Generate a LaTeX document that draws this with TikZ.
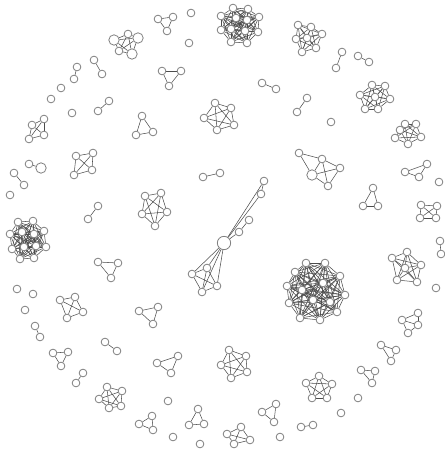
\documentclass[tikz,border=0pt]{standalone}
\pgfdeclarelayer{bg}\pgfsetlayers{bg,main}
\tikzset{
  vx/.style={circle,draw=black!50,fill=white,line width=0.6pt,inner sep=0pt,minimum size=5.8pt},
  vxl/.style={vx,minimum size=7.8pt},
  hubnode/.style={vx,minimum size=10pt},
  edge/.style={draw=black!70,line width=0.4pt}
}
\newcommand\clq[2]{\foreach \i in {1,...,#2}{\foreach \j in {1,...,#2}{\ifnum\i<\j \draw[edge] (#1\i)--(#1\j);\fi}}}
\begin{document}
\begin{tikzpicture}[x=0.75pt,y=-0.75pt]
\useasboundingbox (0,0) rectangle (444,449);
% clusters
\foreach \n/\x/\y in {
 K2/128/34,K4/119/51,
 T1/233/8,T2/248/9,T3/221/16,T4/259/17,T5/221/30,T6/258/32,T7/231/42,T8/247/43,T9/236/18,T10/247/20,T11/231/29,T12/245/31,
 R1/298/25,R2/311/27,R3/322/34,R4/296/39,R5/307/38,R6/302/52,R7/316/48,
 S1/372/85,S2/385/86,S3/360/95,S4/390/99,S5/365/109,S6/378/109,S7/375/97,
 U1/405/124,U2/416/124,U3/400/130,U4/421/137,U5/395/138,U6/408/144,
 P1/215/103,P2/231/108,P3/204/118,P4/234/125,P5/217/130,
 Q1/145/196,Q2/161/193,Q3/142/214,Q4/167/212,Q5/155/226,
 M1/299/153,M2/322/159,M3/340/168,M5/328/186,
 F1/76/156,F2/93/153,F3/74/175,F4/92/170,
 N1/421/205,N2/437/206,N3/420/218,N4/436/218,
 E1/44/119,E2/32/125,E3/29/139,E4/44/135,
 L1/18/222,L2/33/221,L3/44/231,L4/10/234,L5/46/247,L6/12/249,L7/34/258,L8/20/259,L9/22/232,L10/34/234,L11/24/247,L12/36/246,
 B1/306/263,B2/325/263,B3/340/276,B4/345/295,B5/337/312,B6/320/320,B7/300/318,B8/289/303,B9/287/286,B10/295/272,B11/323/283,B12/313/300,B13/302/290,B14/330/302,
 W1/407/252,W2/392/258,W3/421/265,W4/405/268,W5/397/280,W6/417/282,
 C1/60/300,C2/75/297,C3/83/312,C4/67/318,
 D1/107/387,D2/122/391,D3/99/399,D4/121/406,D5/109/408,
 G1/229/350,G2/246/356,G3/221/365,G4/247/372,G5/231/378,
 V1/319/376,V2/306/383,V3/332/384,V4/312/398,V5/327/398,
 X1/418/313,X2/402/320,X3/418/325,X4/408/333,
 Y1/241/427,Y2/227/434,Y3/250/440,Y4/234/444,
 J1/192/274,J2/207/268,J3/217/286,J4/202/292,
 Ha/264/181,Hb/261/194,Hc/239/232,Hd/249/220}
 \node[vx] (\n) at (\x,\y) {};
\foreach \n/\x/\y in {K1/114/40,K3/138/38,K5/132/54,M4/312/175,ph2/41/168}
 \node[vxl] (\n) at (\x,\y) {};
\node[hubnode] (H) at (224,243) {};
% triangles
\foreach \n/\x/\y in {
 ta1/158/19,ta2/173/17,ta3/167/31,
 tb1/142/116,tb2/136/135,tb3/153/132,
 tc1/162/71,tc2/181/71,tc3/169/86,
 td1/427/164,td2/405/172,td3/419/177,
 te1/373/188,te2/363/206,te3/378/206,
 tf1/98/262,tf2/118/263,tf3/111/278,
 tg1/53/353,tg2/68/352,tg3/61/366,
 th1/139/311,th2/158/307,th3/153/324,
 ti1/157/363,ti2/178/356,ti3/171/373,
 tj1/139/424,tj2/152/416,tj3/153/430,
 tk1/198/409,tk2/189/425,tk3/204/424,
 tl1/276/404,tl2/262/412,tl3/274/422,
 tm1/381/345,tm2/396/350,tm3/391/361,
 tn1/361/370,tn2/375/371,tn3/372/383}
 \node[vx] (\n) at (\x,\y) {};
% pairs
\foreach \n/\x/\y in {
 pa1/94/60,pa2/102/74, pb1/77/67,pb2/74/79, pc1/98/111,pc2/109/101,
 pd1/262/83,pd2/276/89, pe1/342/52,pe2/336/68, pf1/358/56,pf2/369/62,
 pg1/307/98,pg2/297/112, ph1/29/164, pi1/14/173,pi2/24/185,
 pj1/98/206,pj2/88/219, pk1/203/177,pk2/220/173, pl1/440/241,pl2/441/254,
 pm1/35/326,pm2/40/337, pn1/105/342,pn2/117/351, po1/83/373,po2/76/383,
 pp1/301/427,pp2/313/425}
 \node[vx] (\n) at (\x,\y) {};
% singles
\foreach \n/\x/\y in {
 s1/191/13,s2/189/43,s3/61/88,s4/51/99,s5/72/113,s6/331/122,s7/439/182,
 s8/10/195,s9/17/289,s10/33/294,s11/25/310,s12/436/288,s13/168/401,
 s14/173/437,s15/200/444,s16/280/437,s17/358/398,s18/341/413}
 \node[vx] (\n) at (\x,\y) {};
\begin{pgfonlayer}{bg}
\clq{K}{5}\clq{T}{12}\clq{R}{7}\clq{S}{7}\clq{U}{6}\clq{P}{5}\clq{Q}{5}
\clq{F}{4}\clq{N}{4}\clq{E}{4}\clq{L}{12}\clq{B}{14}\clq{W}{6}\clq{C}{4}
\clq{D}{5}\clq{G}{5}\clq{V}{5}\clq{Y}{4}\clq{J}{4}
\foreach \a/\b in {M1/M2,M1/M4,M2/M3,M2/M4,M2/M5,M3/M4,M3/M5,M4/M5,
 X1/X2,X1/X3,X2/X3,X2/X4,X3/X4,
 H/Ha,H/Hb,Ha/Hb,H/Hc,Hc/Hd,H/J1,H/J2,H/J3,H/J4}
 \draw[edge] (\a)--(\b);
\foreach \p in {ta,tb,tc,td,te,tf,tg,th,ti,tj,tk,tl,tm,tn} {\clq{\p}{3}}
\foreach \p in {pa,pb,pc,pd,pe,pf,pg,ph,pi,pj,pk,pl,pm,pn,po,pp} {\clq{\p}{2}}
\end{pgfonlayer}
\end{tikzpicture}
\end{document}
